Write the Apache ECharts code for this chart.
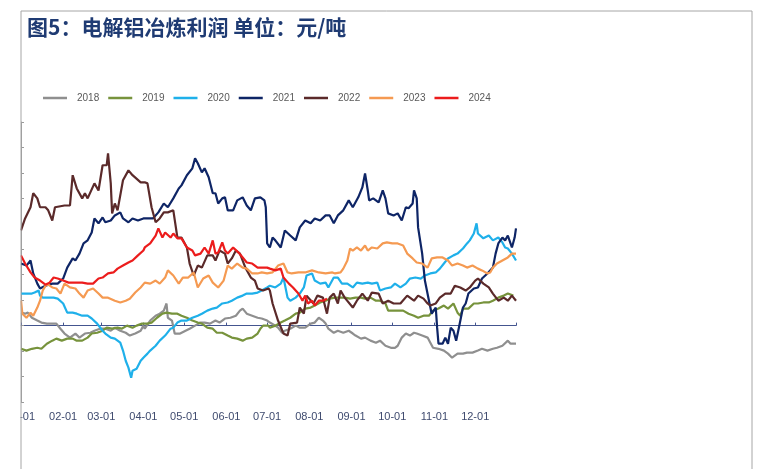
<!DOCTYPE html>
<html>
<head>
<meta charset="utf-8">
<script src="https://cdn.jsdelivr.net/npm/echarts@6/dist/echarts.min.js"></script>
<style>
html,body{margin:0;padding:0;background:#fff;}
#chart{width:757px;height:469px;}
</style>
</head>
<body>
<div id="chart"></div>
<script>
// x = day of year (0 = 01-01), y = profit (元/吨)
const years = ['2018','2019','2020','2021','2022','2023','2024'];
const monthLengths = [31,28,31,30,31,30,31,31,30,31,30,31];

const s2018 = [[0,510],[3,470],[5,510],[8,310],[12,200],[15,120],[19,80],[23,80],[26,80],[29,-120],[32,-310],[36,-470],[40,-310],[43,-470],[47,-310],[51,-280],[54,-200],[58,-120],[62,-120],[66,-200],[69,-80],[73,-200],[77,-280],[80,-390],[84,-310],[88,-200],[90,0],[91,-120],[95,200],[99,390],[102,470],[105,590],[107,870],[108,310],[111,200],[113,-310],[117,-310],[121,-200],[124,-120],[128,0],[132,120],[135,120],[139,80],[143,200],[146,120],[150,280],[154,310],[158,390],[161,590],[163,670],[166,470],[170,390],[174,310],[177,280],[181,200],[183,120],[187,0],[189,-80],[192,-280],[194,-200],[198,-120],[202,0],[205,-80],[209,-80],[213,80],[216,120],[219,310],[222,200],[224,80],[226,-120],[230,-280],[233,-200],[237,-280],[241,-200],[244,-310],[246,-390],[250,-510],[253,-470],[257,-590],[261,-670],[264,-590],[268,-790],[272,-870],[275,-870],[277,-790],[280,-470],[283,-310],[286,-390],[289,-280],[291,-310],[295,-390],[299,-470],[301,-670],[303,-870],[307,-910],[311,-980],[314,-1100],[317,-1260],[321,-1100],[325,-1100],[328,-1060],[332,-1060],[336,-980],[339,-910],[343,-980],[347,-910],[350,-870],[354,-790],[358,-590],[360,-710],[364,-710]];

const s2019 = [[0,-910],[4,-980],[8,-910],[12,-870],[15,-910],[19,-710],[23,-590],[26,-510],[30,-590],[34,-510],[38,-510],[41,-590],[45,-590],[49,-470],[52,-310],[56,-280],[60,-200],[63,-80],[67,-120],[71,-80],[74,-120],[78,0],[82,-80],[85,0],[89,80],[93,80],[96,120],[100,310],[104,470],[107,510],[111,470],[115,470],[118,390],[122,310],[126,200],[130,120],[133,80],[137,-80],[141,-120],[144,-280],[148,-280],[152,-390],[155,-470],[159,-510],[163,-590],[166,-510],[170,-470],[174,-310],[176,-120],[178,0],[182,0],[183,-80],[187,0],[191,120],[194,200],[198,310],[202,470],[205,510],[209,670],[213,710],[216,790],[220,910],[224,980],[227,1060],[231,1100],[235,1100],[238,1100],[242,1060],[246,1100],[250,1100],[253,1060],[257,1100],[261,980],[264,980],[268,870],[270,590],[274,590],[277,590],[281,590],[285,470],[289,390],[292,310],[296,390],[300,390],[303,590],[307,670],[311,790],[314,670],[318,870],[321,510],[323,390],[325,670],[329,670],[333,870],[336,870],[340,910],[344,910],[347,980],[351,1100],[355,1180],[358,1260],[362,1180]];

const s2020 = [[0,1260],[4,1260],[8,1260],[10,1300],[13,1380],[14,1180],[16,1100],[20,1100],[24,1100],[27,1060],[31,870],[34,510],[38,510],[41,470],[45,390],[49,390],[52,280],[56,80],[60,-200],[62,-310],[66,-470],[69,-510],[73,-670],[75,-980],[77,-1380],[79,-1650],[81,-2050],[82,-1770],[85,-1690],[88,-1380],[90,-1260],[93,-1100],[95,-980],[99,-790],[102,-590],[106,-390],[110,-120],[112,-80],[115,120],[118,200],[122,200],[126,310],[130,390],[133,470],[137,590],[141,670],[144,710],[148,870],[152,910],[155,980],[159,1100],[163,1180],[166,1260],[170,1260],[174,1300],[177,1380],[181,1500],[183,1570],[187,1500],[191,1650],[193,1890],[196,1100],[198,980],[202,1100],[205,1260],[208,1500],[210,1970],[214,2050],[216,1770],[220,1650],[224,1690],[226,1500],[230,1890],[233,1890],[236,1650],[240,1650],[244,1500],[247,1690],[251,1650],[255,1690],[258,1650],[262,1690],[264,1380],[268,1460],[272,1500],[275,1650],[279,1500],[283,1650],[286,1850],[290,1890],[294,1850],[297,1970],[301,2050],[305,2090],[308,2240],[311,2440],[314,2640],[318,2760],[321,2830],[325,3030],[328,3230],[330,3350],[333,3620],[335,4020],[336,3620],[340,3430],[344,3540],[347,3350],[351,3460],[354,3270],[356,3070],[358,3030],[361,2830],[364,2560]];

const s2021 = [[0,2440],[4,2360],[7,2560],[9,2050],[12,1650],[14,1460],[18,1570],[23,1650],[27,1650],[31,1850],[34,2280],[38,2640],[40,2560],[43,2830],[46,3230],[49,3350],[52,3660],[54,4210],[57,4020],[60,4250],[62,4060],[66,4130],[69,4330],[73,4450],[75,4210],[79,4060],[82,4210],[86,4130],[90,4210],[93,4210],[97,4210],[101,4450],[105,4800],[108,4650],[112,5000],[116,5390],[118,5510],[122,5910],[126,6180],[128,6570],[130,6380],[133,6020],[135,6180],[138,5830],[141,5200],[143,5200],[145,4800],[148,5000],[150,5040],[152,4530],[156,4530],[159,4920],[163,5040],[166,4720],[169,4530],[172,5000],[176,5040],[179,4920],[180,4650],[181,3230],[183,3070],[185,3460],[187,3350],[191,3070],[194,3740],[198,3540],[202,3350],[205,3860],[209,4130],[213,4020],[216,4210],[220,4130],[224,4330],[227,4330],[230,4020],[233,4330],[237,4530],[241,4920],[244,4650],[248,5040],[251,5430],[253,5980],[255,5310],[256,4920],[259,5000],[263,4840],[266,5310],[268,5000],[270,4410],[274,4330],[277,4410],[280,4130],[283,4650],[285,4610],[288,4800],[289,5310],[291,5000],[292,3860],[295,2830],[297,1770],[300,980],[302,470],[305,710],[306,-80],[307,-710],[310,-710],[312,-470],[314,-710],[316,-80],[318,-200],[320,-590],[322,-80],[325,710],[327,870],[329,1260],[333,1460],[336,1500],[339,1850],[343,2050],[347,2280],[349,2830],[351,3230],[354,3460],[356,3350],[358,3540],[361,3070],[363,3460],[364,3820]];

const s2022 = [[0,3740],[3,4210],[7,4650],[9,5200],[12,5000],[14,4650],[18,4650],[20,4530],[23,4130],[25,4650],[32,4720],[36,4720],[38,5910],[41,5390],[45,5000],[47,5200],[49,5000],[54,5590],[57,5310],[60,6300],[63,6300],[64,6770],[66,5590],[67,4410],[69,4800],[71,4530],[75,5710],[79,6100],[82,5910],[88,5630],[91,5630],[93,5590],[96,4650],[99,4060],[102,4210],[105,4450],[108,4450],[112,4530],[115,3460],[118,3460],[122,3070],[124,2440],[127,1970],[130,2360],[133,2280],[137,2760],[141,2760],[143,2560],[146,2950],[150,2830],[152,2440],[155,2640],[158,2950],[161,2830],[165,2280],[169,1890],[172,1770],[174,1460],[178,1380],[182,1460],[183,1380],[185,870],[189,200],[193,-310],[196,-390],[198,80],[203,120],[205,710],[208,470],[210,1180],[215,870],[218,1180],[222,1100],[225,470],[227,1100],[230,1260],[233,870],[235,1380],[238,1100],[244,710],[247,980],[251,1260],[255,980],[258,1300],[263,1260],[266,870],[270,980],[274,870],[279,870],[284,1180],[289,980],[292,1180],[296,1060],[299,870],[301,790],[305,870],[308,1100],[312,1260],[316,1260],[319,1570],[323,1500],[327,1380],[330,1500],[334,1770],[336,1850],[340,1650],[344,1500],[347,1260],[351,980],[355,1100],[358,980],[361,1180],[364,980]];

const s2023 = [[0,980],[1,470],[4,310],[7,510],[9,390],[12,710],[14,980],[16,1380],[19,1650],[23,1500],[26,1460],[29,1260],[32,1650],[36,1500],[40,1460],[43,1260],[46,1100],[49,1380],[53,1460],[57,1260],[60,1100],[64,1100],[69,980],[73,910],[77,980],[80,1060],[84,1300],[88,1500],[91,1690],[95,1650],[99,1770],[102,1650],[106,1890],[108,2170],[112,1970],[116,1650],[119,1890],[123,1890],[127,2090],[130,1500],[134,1850],[138,1970],[141,1690],[145,1500],[149,1770],[152,2360],[155,2240],[159,2440],[163,2280],[166,2240],[170,2050],[174,2050],[177,2090],[181,2050],[185,2090],[189,2360],[193,2440],[196,2090],[199,2050],[204,2090],[209,2090],[214,2170],[219,2090],[224,2050],[229,2090],[231,2050],[235,2090],[237,2240],[240,2560],[242,3030],[244,2950],[247,3070],[250,2950],[253,3150],[255,2950],[258,3070],[262,3030],[266,3230],[269,3270],[273,3230],[277,3230],[281,3150],[284,2830],[288,2640],[291,2480],[295,2440],[299,2280],[302,2640],[306,2680],[310,2680],[314,2560],[317,2360],[321,2440],[325,2360],[328,2280],[332,2360],[336,2240],[339,2170],[343,2050],[345,2090],[347,2280],[350,2440],[354,2560],[358,2680],[361,2830],[364,2830]];

const s2024 = [[0,2760],[3,2440],[7,2090],[10,1890],[14,1770],[18,1610],[21,1690],[24,1890],[27,1850],[31,1770],[35,1690],[40,1690],[45,1690],[49,1650],[53,1650],[57,1850],[60,1890],[64,2050],[68,2090],[71,2240],[75,2360],[79,2480],[82,2560],[86,2760],[90,2950],[91,3070],[95,3230],[99,3540],[101,3820],[104,3460],[106,3660],[110,3460],[112,3620],[115,3430],[118,3430],[122,3070],[126,2950],[128,2760],[132,2830],[135,3070],[138,2830],[141,3350],[143,2830],[145,2870],[148,3270],[150,2950],[152,2830],[156,3070],[160,2870],[163,2680],[166,2480],[170,2440],[174,2280],[177,2280],[181,2280],[183,2240],[187,2170],[191,2240],[193,1890],[197,1650],[200,1500],[204,1260],[207,980],[209,1180],[211,870],[214,980],[216,790],[219,980],[222,980],[225,1060]];

const seriesData = [s2018, s2019, s2020, s2021, s2022, s2023, s2024];
const colors = ['#8f8f8f','#77933c','#1fb0ea','#0e2566','#5b2a2a','#f59a52','#ec1c1c'];

// categories: every day of the year as MM-DD
const days = [];
monthLengths.forEach((n, m) => {
  for (let d = 1; d <= n; d++) {
    days.push(String(m + 1).padStart(2, '0') + '-' + String(d).padStart(2, '0'));
  }
});
const monthStart = (i) => days[i].endsWith('-01') || i === days.length - 1;

const zeroColor = '#44558f';
const series = years.map((y, i) => ({
  name: y, type: 'line', xAxisIndex: 0, data: seriesData[i],
  showSymbol: false, symbol: 'none', color: colors[i],
  lineStyle: {width: 2.2, color: colors[i]}
}));
// helper series so the second x axis (zero line with month ticks) is laid out
series.push({name: 'zero', type: 'line', xAxisIndex: 1, data: [], showSymbol: false});

const chart = echarts.init(document.getElementById('chart'), null, {renderer: 'canvas'});
chart.setOption({
  animation: false,
  backgroundColor: '#fff',
  title: {
    text: '图5：电解铝冶炼利润 单位：元/吨',
    left: 22, top: 12,
    textStyle: {fontFamily: 'Noto Sans CJK SC', fontSize: 21, fontWeight: 'bold', color: '#1f3b73'}
  },
  legend: {
    data: years,
    left: 38, top: 88,
    icon: 'rect', itemWidth: 24, itemHeight: 2.5, itemGap: 9,
    textStyle: {fontFamily: 'Liberation Sans', fontSize: 10, color: '#595959', padding: [0, 0, 0, 5]}
  },
  grid: {left: 21, right: 241, top: 122, bottom: 67, containLabel: false},
  xAxis: [{
    type: 'category', data: days, boundaryGap: false,
    axisLine: {show: false, onZero: false}, axisTick: {show: false},
    axisLabel: {
      interval: (i) => days[i].endsWith('-01'),
      margin: 9, fontFamily: 'Liberation Sans', fontSize: 11, color: '#3e4a6e'
    },
    splitLine: {show: false}
  }, {
    type: 'category', data: days, boundaryGap: false, position: 'bottom',
    axisLine: {show: true, onZero: true, onZeroAxisIndex: 0, lineStyle: {color: zeroColor, width: 1}},
    axisTick: {show: true, inside: true, length: 3, interval: (i) => monthStart(i), lineStyle: {color: zeroColor}},
    axisLabel: {show: false},
    splitLine: {show: false}
  }],
  yAxis: {
    type: 'value', min: -3000, max: 8000, interval: 1000,
    axisLine: {show: true, onZero: false, lineStyle: {color: '#9a9a9a'}},
    axisTick: {show: true, inside: true, length: 3, lineStyle: {color: '#9a9a9a'}},
    axisLabel: {show: false},
    splitLine: {show: false}
  },
  series: series,
  graphic: [
    {type: 'rect', shape: {x: 0, y: 0, width: 20.5, height: 469}, style: {fill: '#fff'}, z: 100},
    {type: 'rect', shape: {x: 21, y: 11, width: 731, height: 480}, style: {fill: 'none', stroke: '#a6a6a6', lineWidth: 1}, z: 101}
  ]
});
</script>
</body>
</html>
